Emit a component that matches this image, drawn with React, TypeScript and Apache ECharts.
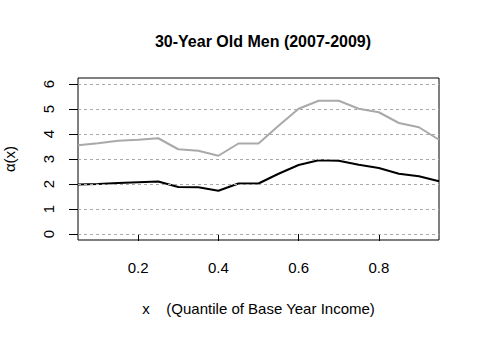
import React, { useEffect, useRef } from "react";
import * as echarts from "echarts";

const xValues = [0.05, 0.1, 0.15, 0.2, 0.25, 0.3, 0.35, 0.4, 0.45, 0.5, 0.55, 0.6, 0.65, 0.7, 0.75, 0.8, 0.85, 0.9, 0.95];
const grayValues = [3.55, 3.63, 3.73, 3.77, 3.83, 3.39, 3.33, 3.13, 3.62, 3.62, 4.33, 5.01, 5.33, 5.33, 5.01, 4.87, 4.44, 4.27, 3.77];
const blackValues = [1.98, 2.0, 2.04, 2.07, 2.1, 1.88, 1.87, 1.73, 2.02, 2.02, 2.41, 2.76, 2.95, 2.93, 2.77, 2.64, 2.41, 2.31, 2.11];
const xTicks = [0.2, 0.4, 0.6, 0.8];
const yTicks = [0, 1, 2, 3, 4, 5, 6];
const titleText = "30-Year Old Men (2007-2009)";
const xTitle = "x    (Quantile of Base Year Income)";
const yTitle = "α(x)";

const FONT = "'Liberation Sans', Arial, sans-serif";

export default function App() {
  const ref = useRef<HTMLDivElement>(null);
  useEffect(() => {
    if (!ref.current) return;
    const chart = echarts.init(ref.current, null, { renderer: "svg" });
    chart.setOption({
      animation: false,
      backgroundColor: "#ffffff",
      textStyle: { fontFamily: FONT },
      title: {
        text: titleText,
        left: 258,
        top: 28,
        textAlign: "center",
        textStyle: { fontFamily: FONT, fontWeight: "bold", fontSize: 16, color: "#000" },
      },
      grid: {
        left: 78,
        right: 41,
        top: 78,
        bottom: 98,
        containLabel: false,
        outerBoundsMode: "none",
        show: true,
        borderColor: "#000",
        borderWidth: 1,
        backgroundColor: "transparent",
      },
      xAxis: {
        type: "value",
        min: 0.05,
        max: 0.95,
        name: xTitle,
        nameLocation: "middle",
        nameGap: 61,
        nameTextStyle: { fontFamily: FONT, fontSize: 15, color: "#000", verticalAlign: "top" },
        axisLine: { show: false },
        splitLine: { show: false },
        axisTick: { show: true, inside: false, length: 7, customValues: xTicks, lineStyle: { color: "#000", width: 1 } },
        axisLabel: {
          customValues: xTicks,
          margin: 20,
          fontFamily: FONT,
          fontSize: 15,
          color: "#000",
          formatter: (v: number) => v.toFixed(1),
        },
      },
      yAxis: {
        type: "value",
        min: -0.24,
        max: 6.24,
        name: yTitle,
        nameLocation: "middle",
        nameGap: 61,
        nameRotate: 90,
        nameTextStyle: { fontFamily: FONT, fontSize: 15, color: "#000" },
        axisLine: { show: false },
        splitLine: { show: false },
        axisTick: { show: true, inside: false, length: 9, customValues: yTicks, lineStyle: { color: "#000", width: 1 } },
        axisLabel: {
          customValues: yTicks,
          rotate: 90,
          margin: 22,
          fontFamily: FONT,
          fontSize: 15,
          color: "#000",
        },
      },
      series: [
        {
          type: "line",
          name: "gray",
          data: xValues.map((x, i) => [x, grayValues[i]]),
          symbol: "none",
          lineStyle: { color: "#A9A9A9", width: 2 },
          markLine: {
            silent: true,
            symbol: "none",
            label: { show: false },
            lineStyle: { color: "#A9A9A9", width: 1, type: [3, 3] },
            data: yTicks.map((v) => ({ yAxis: v })),
          },
          z: 2,
        },
        {
          type: "line",
          name: "black",
          data: xValues.map((x, i) => [x, blackValues[i]]),
          symbol: "none",
          lineStyle: { color: "#000", width: 2 },
          z: 3,
        },
      ],
    });
    return () => chart.dispose();
  }, []);
  return <div ref={ref} style={{ width: 480, height: 338, position: "absolute", left: 0, top: 0 }} />;
}
